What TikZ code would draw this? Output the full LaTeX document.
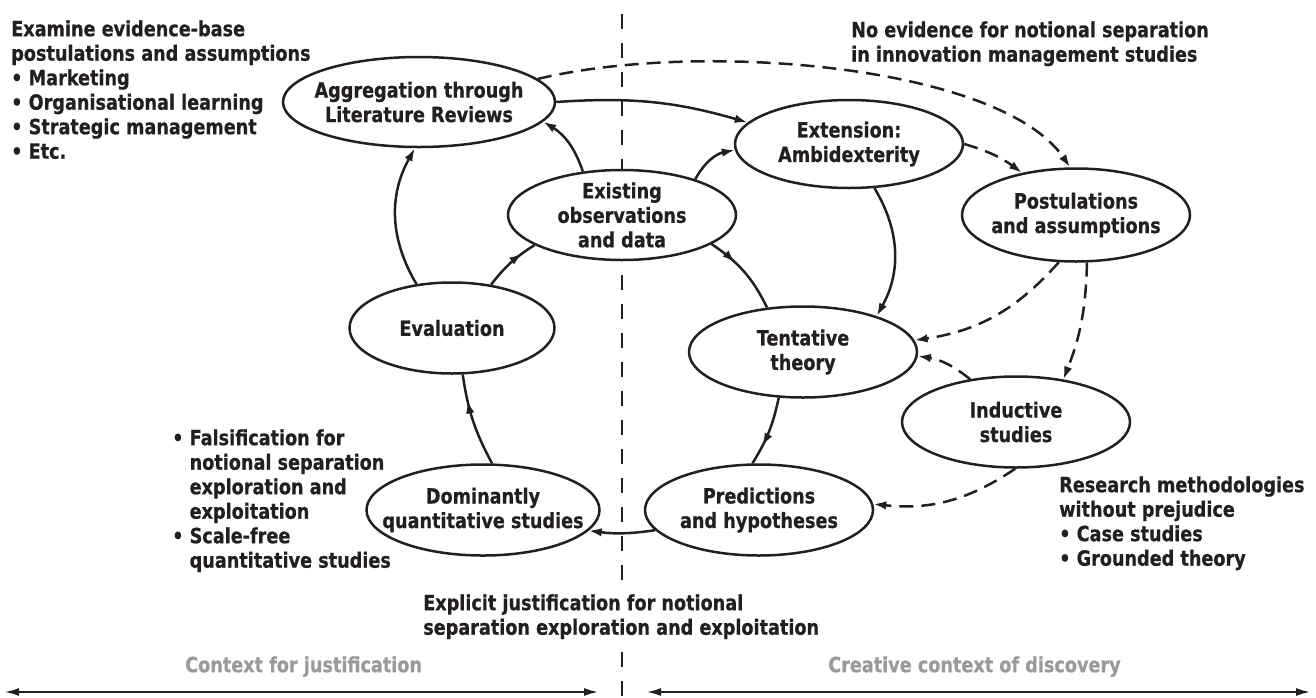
\documentclass[tikz,border=0pt]{standalone}
\usepackage{fontspec}
\newfontfamily\dfont{DejaVu Sans}[FakeStretch=0.84, BoldFeatures={FakeBold=0.6}]
\usetikzlibrary{shapes.geometric,arrows.meta,decorations.markings}
\definecolor{ink}{HTML}{231F20}
\definecolor{soft}{HTML}{9A9A9A}
\tikzset{
  ell/.style={draw=ink, ellipse, fill=white, inner sep=0pt, line width=2.5pt},
  lbl/.style={align=center, inner sep=0pt, text=ink},
  arr/.style={-{Latex[length=13pt,width=8.5pt]}},
  dsh/.style={dash pattern=on 14pt off 8pt},
  midarr/.style={postaction={decorate}, decoration={markings, mark=at position #1 with {\arrow{Latex[length=13pt,width=8.5pt]}}}},
  txt/.style={inner sep=0pt, align=left, anchor=north west, text=ink},
}
\begin{document}
\begin{tikzpicture}[x=1pt,y=-1pt, line width=2.5pt, draw=ink,
  every node/.style={font=\dfont\bfseries\fontsize{21}{24.5}\selectfont}]
\useasboundingbox (0,0) rectangle (1316,697);
% divider
\coordinate (vt) at (622,14);
\coordinate (vb) at (622,697);
\draw[ink, dash pattern=on 15pt off 14pt] (vt) -- (vb);
% ellipses
\node[ell, minimum width=272pt, minimum height=90pt, label={[lbl]center:{Aggregation through\\Literature Reviews}}] (agg) at (419,102) {};
\node[ell, minimum width=228pt, minimum height=88pt, label={[lbl]center:{Extension:\\Ambidexterity}}] (ext) at (849,144) {};
\node[ell, minimum width=228pt, minimum height=90pt, label={[lbl]center:{Existing\\observations\\and data}}] (exi) at (622,215) {};
\node[ell, minimum width=228pt, minimum height=93pt, label={[lbl]center:{Postulations\\and assumptions}}] (pos) at (1076,215) {};
\node[ell, minimum width=205pt, minimum height=91pt, label={[lbl]center:{Evaluation}}] (eva) at (452,328) {};
\node[ell, minimum width=228pt, minimum height=91pt, label={[lbl]center:{Tentative\\theory}}] (ten) at (803,352) {};
\node[ell, minimum width=228pt, minimum height=91pt, label={[lbl]center:{Inductive\\studies}}] (ind) at (1016,422) {};
\node[ell, minimum width=228pt, minimum height=91pt, label={[lbl]center:{Predictions\\and hypotheses}}] (pre) at (759,510) {};
\node[ell, minimum width=233pt, minimum height=91pt, label={[lbl]center:{Dominantly\\quantitative studies}}] (dom) at (483,510) {};
% solid connectors
\draw[ink, arr] (agg.0) to[bend left=10] (ext.168);
\draw[ink, arr] (exi.132) to[bend right=20] (agg.-9);
\draw[ink, arr] (exi.26) to[bend left=25] (ext.183);
\draw[ink, arr] (eva.129) to[bend left=30] (agg.-95);
\draw[ink, midarr=0.75] (eva.48) to[bend left=10] (exi.199);
\draw[ink, midarr=0.35] (exi.-18) to[bend left=15] (ten.129);
\draw[ink, arr] (ext.-60) to[bend left=30] (ten.26);
\draw[ink, midarr=0.72] (ten.-118) to[bend left=10] (pre.98);
\draw[ink, arr] (pre.191) to[bend left=8] (dom.-11);
\draw[ink, midarr=0.72] (dom.79) to[bend left=10] (eva.-77);
% dashed connectors
\draw[ink, dsh, arr] (agg.11) .. controls (700,40) and (1000,65) .. (pos.97);
\draw[ink, dsh, arr] (ext.0) to[bend left=10] (pos.142);
\draw[ink, dsh, arr] (pos.-110) to[bend left=20] (ten.6);
\draw[ink, dsh, arr] (pos.-77) to[bend left=10] (ind.42);
\draw[ink, dsh, arr] (ind.137) to[bend right=15] (ten.-2);
\draw[ink, dsh, arr] (ind.-91) to[bend left=20] (pre.3);
% texts
\node[txt] (t1) at (10,19) {Examine evidence-base\\postulations and assumptions\\• Marketing\\• Organisational learning\\• Strategic management\\• Etc.};
\node[txt] (t2) at (850,20) {No evidence for notional separation\\in innovation management studies};
\node[txt] (t3) at (171,428) {• Falsification for\\\phantom{• }notional separation\\\phantom{• }exploration and\\\phantom{• }exploitation\\• Scale-free\\\phantom{• }quantitative studies};
\node[txt, fill=white, inner ysep=12pt] (t4) at (422,581) {Explicit justification for notional\\separation exploration and exploitation};
\node[txt] (t5) at (1058,475) {Research methodologies\\without prejudice\\• Case studies\\• Grounded theory};
\node[txt, text=soft] (t6) at (184,655) {Context for justification};
\node[txt, text=soft] (t7) at (827,655) {Creative context of discovery};
% bottom arrows
\coordinate (la) at (4,692);
\coordinate (lb) at (599,692);
\coordinate (ra) at (646,692);
\coordinate (rb) at (1311,692);
\draw[ink, line width=2.5pt, {Latex[length=15pt,width=8pt]}-{Latex[length=15pt,width=8pt]}] (la) -- (lb);
\draw[ink, line width=2.5pt, {Latex[length=15pt,width=8pt]}-{Latex[length=15pt,width=8pt]}] (ra) -- (rb);
\end{tikzpicture}
\end{document}
